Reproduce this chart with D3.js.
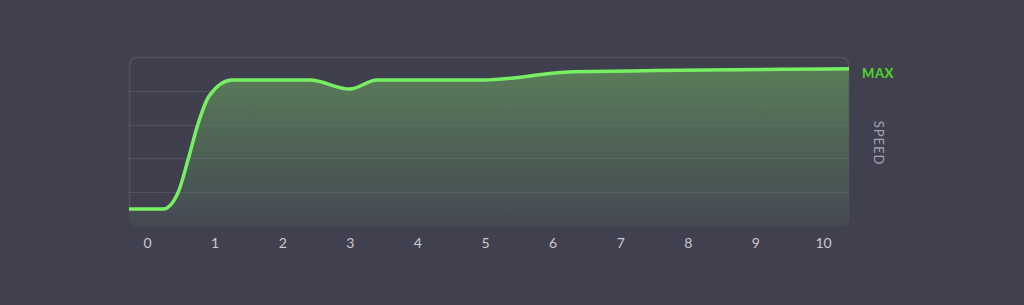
<!DOCTYPE html>
<html>
<head>
<meta charset="utf-8">
<script src="https://cdn.jsdelivr.net/npm/d3@7"></script>
<style>
  html, body { margin: 0; padding: 0; background: #40404f; }
  svg { display: block; }
</style>
</head>
<body>
<div id="chart"></div>
<script>
// time values (x) and speed values (y)
var timeValues  = [-0.27, 0.24, 0.46, 0.61, 0.75, 0.92, 1.26, 2.41, 3.0, 3.40, 4.97, 6.30, 10.38];
var speedValues = [0.5,   0.5,  0.99, 1.98, 2.99, 3.85, 4.32, 4.32, 4.05, 4.32, 4.32, 4.56, 4.65];
var tickLabels  = [0, 1, 2, 3, 4, 5, 6, 7, 8, 9, 10];
var gridLevels  = [1, 2, 3, 4];

var width = 1024, height = 305;
var box = { left: 129, right: 849, top: 57, bottom: 226 };

var svg = d3.select("#chart").append("svg")
    .attr("width", width)
    .attr("height", height);

var x = d3.scaleLinear().domain([0, 10]).range([147, 823]);
var y = d3.scaleLinear().domain([0, 5]).range([box.bottom, box.top]);

var defs = svg.append("defs");
var grad = defs.append("linearGradient")
    .attr("id", "areaGrad")
    .attr("x1", 0).attr("y1", 0).attr("x2", 0).attr("y2", 1);
grad.append("stop").attr("offset", "0%").attr("stop-color", "#5a7d58");
grad.append("stop").attr("offset", "100%").attr("stop-color", "#444853");

defs.append("clipPath").attr("id", "boxClip")
  .append("rect")
    .attr("x", box.left).attr("y", box.top)
    .attr("width", box.right - box.left).attr("height", box.bottom - box.top)
    .attr("rx", 7);

// plot box
svg.append("rect")
    .attr("x", box.left + 0.5).attr("y", box.top + 0.5)
    .attr("width", box.right - box.left - 1).attr("height", box.bottom - box.top - 1)
    .attr("rx", 7)
    .attr("fill", "#3f3f4e")
    .attr("stroke", "#51525f")
    .attr("stroke-width", 1.5);

var data = timeValues.map(function(t, i) { return { t: t, v: speedValues[i] }; });

var plot = svg.append("g").attr("clip-path", "url(#boxClip)");

var area = d3.area()
    .x(function(d) { return x(d.t); })
    .y0(box.bottom)
    .y1(function(d) { return y(d.v); })
    .curve(d3.curveMonotoneX);

plot.append("path")
    .datum(data)
    .attr("d", area)
    .attr("fill", "url(#areaGrad)");

// grid lines
plot.selectAll(".grid")
    .data(gridLevels)
  .enter().append("line")
    .attr("x1", box.left).attr("x2", box.right)
    .attr("y1", function(d) { return Math.round(y(d)) + 0.5; })
    .attr("y2", function(d) { return Math.round(y(d)) + 0.5; })
    .attr("stroke", "#6a6d78")
    .attr("stroke-opacity", 0.45)
    .attr("stroke-width", 1.2);

var line = d3.line()
    .x(function(d) { return x(d.t); })
    .y(function(d) { return y(d.v); })
    .curve(d3.curveMonotoneX);

plot.append("path")
    .datum(data)
    .attr("d", line)
    .attr("fill", "none")
    .attr("stroke", "#76f062")
    .attr("stroke-width", 3.5)
    .attr("stroke-linecap", "round");

// x axis labels
var xAxis = d3.axisBottom(x)
    .tickValues(tickLabels)
    .tickSize(0)
    .tickPadding(0)
    .tickFormat(d3.format("d"));

var axisG = svg.append("g")
    .attr("transform", "translate(0," + 238 + ")")
    .call(xAxis);
axisG.select(".domain").remove();
axisG.selectAll("text")
    .attr("dy", "0.71em")
    .attr("fill", "#c9c9d1")
    .style("font-family", "Lato, 'Open Sans', sans-serif")
    .style("font-size", "14px");

// right labels
svg.append("text")
    .attr("x", 878).attr("y", 78)
    .attr("text-anchor", "middle")
    .attr("fill", "#4fd02c")
    .style("font-family", "Lato, sans-serif")
    .style("font-weight", "900")
    .style("font-size", "13px")
    .style("letter-spacing", "0.5px")
    .text("MAX");

svg.append("text")
    .attr("transform", "translate(874,143) rotate(90)")
    .attr("text-anchor", "middle")
    .attr("fill", "#a4a5b0")
    .style("font-family", "Lato, sans-serif")
    .style("font-size", "13px")
    .style("letter-spacing", "1px")
    .text("SPEED");
</script>
</body>
</html>
